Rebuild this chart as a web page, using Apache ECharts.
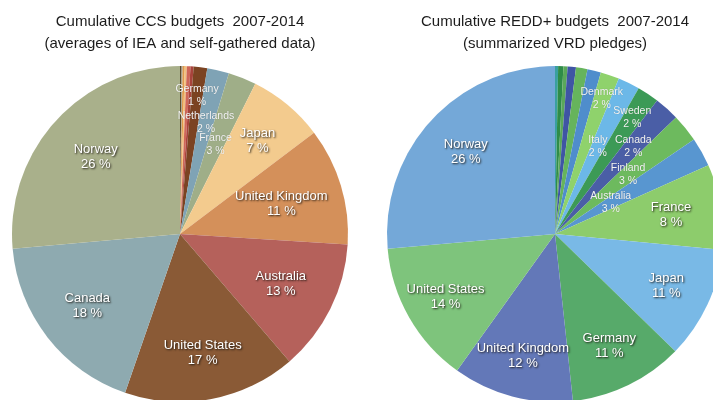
<!DOCTYPE html>
<html>
<head>
<meta charset="utf-8">
<script src="https://cdn.jsdelivr.net/npm/echarts@6/dist/echarts.min.js"></script>
<style>
  html, body { margin: 0; padding: 0; background: #ffffff; }
  #chart { width: 713px; height: 400px; }
</style>
</head>
<body>
<div id="chart"></div>
<script>
// CCS budgets 2007-2014, share per country (clockwise from 12 o'clock)
const ccsNames = ['Other A', 'Other B', 'Other C', 'Other D', 'Other E', 'Other F',
  'Germany', 'Netherlands', 'France', 'Japan', 'United Kingdom', 'Australia',
  'United States', 'Canada', 'Norway'];
const ccsValues = [0.15, 0.1, 0.2, 0.2, 0.35, 0.3,
  1.3, 2.1, 2.7, 7.3, 11.3, 12.7, 16.6, 18.3, 26.4];

// REDD+ pledges 2007-2014, share per country (clockwise from 12 o'clock)
const reddNames = ['Other A', 'Other B', 'Other C', 'Other D', 'Other E', 'Other F',
  'Denmark', 'Italy', 'Sweden', 'Canada', 'Finland', 'Australia',
  'France', 'Japan', 'Germany', 'United Kingdom', 'United States', 'Norway'];
const reddValues = [0.3, 0.5, 0.4, 0.8, 1.1, 1.3,
  1.8, 2.1, 2.1, 2.4, 2.7, 2.8, 8.2, 10.8, 11.0, 11.6, 13.7, 26.4];

// slice colours
const ccsColors = ['#5b4a2c', '#a09a86', '#e09a4c', '#f2c07e', '#cf6658', '#a8433c',
  '#7b4322', '#7fa3b5', '#9fae88', '#f3cb8e', '#d4905a', '#b5615b',
  '#8a5a36', '#8eaab0', '#a9b08b'];
const reddColors = ['#3aa0a0', '#2f8c48', '#5aa85a', '#3f55a4', '#66b45c', '#4f8dcc',
  '#8fd26c', '#6cb8e8', '#3c9a56', '#4a5ea6', '#6dba5e', '#5896d0',
  '#8dcc6c', '#79b9e6', '#57aa6a', '#6378b8', '#7ec47c', '#74a8d8'];

// label distance from the centre, as a fraction of the radius (null = no label)
const ccsLabelRadius = [null, null, null, null, null, null,
  0.83, 0.68, 0.57, 0.72, 0.63, 0.67, 0.72, 0.70, 0.68];
const reddLabelRadius = [null, null, null, null, null, null,
  0.85, 0.58, 0.83, 0.70, 0.56, 0.38, 0.70, 0.73, 0.74, 0.75, 0.75, 0.72];

const ccsSmall = ['Germany', 'Netherlands', 'France'];
const reddSmall = ['Denmark', 'Italy', 'Sweden', 'Canada', 'Finland', 'Australia'];

const FONT = "'Liberation Sans', Arial, Helvetica, sans-serif";

const bigLabel = {
  show: true,
  color: '#ffffff',
  fontFamily: FONT,
  fontSize: 13,
  lineHeight: 15,
  textShadowColor: 'rgba(25, 20, 15, 0.95)',
  textShadowBlur: 2,
  textShadowOffsetX: 1,
  textShadowOffsetY: 1
};
const smallLabel = {
  show: true,
  color: '#f4f4f4',
  fontFamily: FONT,
  fontSize: 10.5,
  lineHeight: 13,
  textShadowColor: 'rgba(0, 0, 0, 0.25)',
  textShadowBlur: 1
};

function buildData(names, values, colors, labelRadius, small) {
  return names.map(function (n, i) {
    return {
      name: n,
      value: values[i],
      itemStyle: { color: colors[i] },
      label: labelRadius[i] == null ? { show: false }
        : (small.indexOf(n) >= 0 ? smallLabel : bigLabel)
    };
  });
}

const chart = echarts.init(document.getElementById('chart'), null, { renderer: 'canvas' });

// place each label on its slice's bisector at the given radial fraction,
// using the sector geometry computed by the pie layout
function placeLabels(labelRadius) {
  return function (params) {
    const f = labelRadius[params.dataIndex];
    if (f == null) return {};
    const data = chart.getModel().getSeriesByIndex(params.seriesIndex).getData();
    const lay = data.getItemLayout(params.dataIndex);
    const mid = (lay.startAngle + lay.endAngle) / 2;
    return {
      x: lay.cx + f * lay.r * Math.cos(mid),
      y: lay.cy + f * lay.r * Math.sin(mid),
      align: 'center',
      verticalAlign: 'middle'
    };
  };
}

function pieSeries(center, data, labelRadius) {
  return {
    type: 'pie',
    center: center,
    radius: 168,
    startAngle: 90,
    clockwise: true,
    avoidLabelOverlap: false,
    silent: true,
    label: {
      position: 'inside',
      formatter: function (p) { return p.name + '\n' + Math.round(p.percent) + ' %'; }
    },
    labelLine: { show: false },
    labelLayout: placeLabels(labelRadius),
    itemStyle: { borderWidth: 0 },
    emphasis: { disabled: true },
    data: data
  };
}

const titleStyle = {
  textAlign: 'center',
  textVerticalAlign: 'top',
  fill: '#1c1c1c',
  font: '15px ' + FONT,
  lineHeight: 22
};

chart.setOption({
  animation: false,
  backgroundColor: '#ffffff',
  graphic: [
    { type: 'text', x: 180, y: 11,
      style: Object.assign({ text: 'Cumulative CCS budgets  2007-2014\n(averages of IEA and self-gathered data)' }, titleStyle) },
    { type: 'text', x: 555, y: 11,
      style: Object.assign({ text: 'Cumulative REDD+ budgets  2007-2014\n(summarized VRD pledges)' }, titleStyle) }
  ],
  series: [
    pieSeries([180, 234], buildData(ccsNames, ccsValues, ccsColors, ccsLabelRadius, ccsSmall), ccsLabelRadius),
    pieSeries([555, 234], buildData(reddNames, reddValues, reddColors, reddLabelRadius, reddSmall), reddLabelRadius)
  ]
});
</script>
</body>
</html>
